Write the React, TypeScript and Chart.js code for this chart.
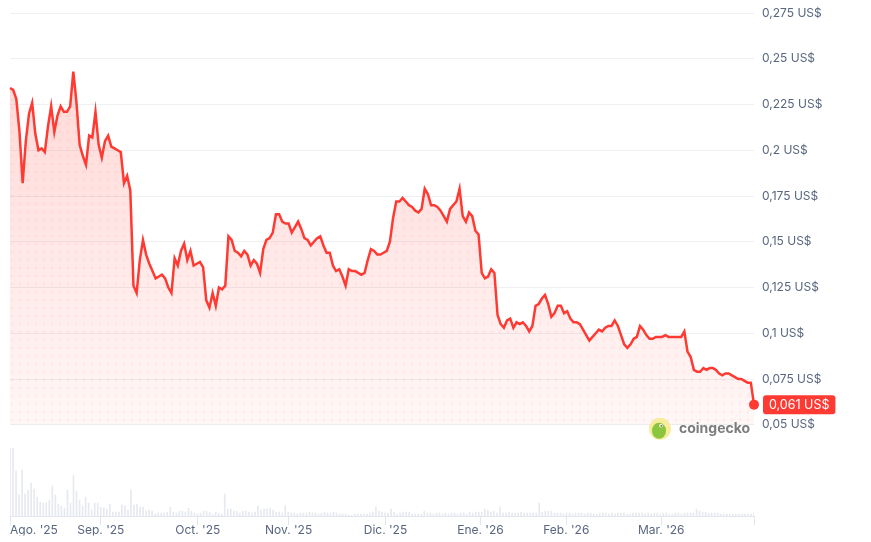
import React, { useEffect, useRef } from "react";
import { Chart, registerables } from "chart.js";

Chart.register(...registerables);

// ---- Data ----
const prices: number[] = [
  0.234, 0.233, 0.228, 0.21, 0.182, 0.205, 0.22, 0.226, 0.209, 0.2,
  0.201, 0.199, 0.213, 0.224, 0.21, 0.219, 0.224, 0.221, 0.221, 0.224,
  0.243, 0.226, 0.203, 0.197, 0.192, 0.208, 0.207, 0.221, 0.203, 0.196,
  0.205, 0.208, 0.202, 0.201, 0.2, 0.199, 0.182, 0.186, 0.178, 0.126,
  0.122, 0.14, 0.151, 0.143, 0.138, 0.134, 0.13, 0.131, 0.132, 0.13,
  0.125, 0.122, 0.141, 0.137, 0.145, 0.149, 0.14, 0.145, 0.137, 0.138,
  0.139, 0.136, 0.118, 0.114, 0.122, 0.115, 0.125, 0.124, 0.126, 0.153,
  0.151, 0.145, 0.144, 0.142, 0.145, 0.143, 0.137, 0.14, 0.138, 0.133,
  0.146, 0.151, 0.152, 0.155, 0.165, 0.165, 0.161, 0.16, 0.16, 0.155,
  0.158, 0.161, 0.157, 0.152, 0.151, 0.148, 0.15, 0.152, 0.153, 0.148,
  0.144, 0.144, 0.137, 0.134, 0.135, 0.131, 0.126, 0.135, 0.134, 0.134,
  0.133, 0.132, 0.133, 0.14, 0.146, 0.145, 0.143, 0.143, 0.144, 0.145,
  0.15, 0.163, 0.172, 0.172, 0.174, 0.172, 0.17, 0.169, 0.167, 0.166,
  0.168, 0.179, 0.176, 0.17, 0.17, 0.169, 0.167, 0.164, 0.161, 0.168,
  0.17, 0.172, 0.179, 0.164, 0.161, 0.166, 0.164, 0.156, 0.154, 0.133,
  0.13, 0.131, 0.135, 0.133, 0.11, 0.105, 0.103, 0.107, 0.108, 0.103,
  0.106, 0.105, 0.106, 0.104, 0.101, 0.104, 0.115, 0.116, 0.119, 0.121,
  0.116, 0.109, 0.111, 0.115, 0.115, 0.111, 0.112, 0.108, 0.106, 0.106,
  0.105, 0.102, 0.099, 0.096, 0.098, 0.1, 0.102, 0.101, 0.103, 0.104,
  0.104, 0.107, 0.104, 0.099, 0.094, 0.092, 0.094, 0.097, 0.098, 0.104,
  0.102, 0.099, 0.097, 0.097, 0.098, 0.098, 0.098, 0.099, 0.098, 0.098,
  0.098, 0.098, 0.098, 0.101, 0.09, 0.087, 0.08, 0.079, 0.079, 0.081,
  0.08, 0.081, 0.081, 0.08, 0.078, 0.077, 0.078, 0.078, 0.077, 0.076,
  0.075, 0.075, 0.074, 0.073, 0.073, 0.061,
];

// relative trading volume (arbitrary units), sampled evenly over the same period
const volumes: number[] = [
  68, 68, 45, 21, 46, 22, 26, 33, 27, 19, 14, 13, 13, 16, 30, 21, 12, 10, 8, 26,
  13, 41, 25, 16, 10, 19, 13, 6, 13, 13, 9, 8, 7, 12, 4, 4, 4, 11, 10, 6,
  26, 11, 12, 9, 9, 5, 6, 5, 2, 3, 3, 3, 4, 9, 4, 3, 5, 5, 4, 8,
  5, 3, 2, 3, 5, 5, 4, 2, 4, 3, 2, 22, 7, 7, 5, 5, 3, 5, 5, 4, 3,
  4, 10, 6, 7, 7, 8, 6, 4, 4, 3, 10, 4, 3, 3, 2, 3, 3, 3, 4, 3,
  3, 2, 3, 4, 3, 3, 4, 3, 2, 2, 2, 1, 1, 2, 2, 2, 2, 2, 3, 4,
  9, 5, 4, 3, 3, 7, 4, 2, 3, 4, 4, 4, 2, 2, 2, 2, 5, 3, 3, 2, 3, 3, 2,
  3, 2, 3, 3, 2, 3, 3, 2, 4, 3, 4, 4, 4, 7, 6, 4, 5, 3, 9, 3, 3,
  4, 3, 3, 3, 4, 3, 3, 3, 3, 3, 13, 4, 5, 5, 5, 3,
  3, 3, 2, 3, 3, 2, 3, 3, 3, 2, 3, 3, 2, 2, 3, 3, 3, 2, 3, 2,
  3, 3, 3, 2, 2, 3, 3, 3, 3, 2, 3, 2, 3, 3, 2, 3, 3, 2, 2, 3, 3, 2, 3, 3, 3,
  3, 7, 5, 4,
  4, 3, 3, 3, 3, 2, 2, 2, 2, 2, 2, 2, 2, 2, 2, 2, 3,
];

const monthTickPositions: number[] = [0, 28.7, 59.3, 88.0, 118.6, 148.6, 175.7, 205.7, 235];
const monthTickLabels: string[] = [
  "Ago. '25", "Sep. '25", "Oct. '25", "Nov. '25", "Dic. '25", "Ene. '26", "Feb. '26", "Mar. '26", "",
];

const priceTickValues: number[] = [0.05, 0.075, 0.1, 0.125, 0.15, 0.175, 0.2, 0.225, 0.25, 0.275];
const priceTickLabels: string[] = [
  "0,05 US$", "0,075 US$", "0,1 US$", "0,125 US$", "0,15 US$",
  "0,175 US$", "0,2 US$", "0,225 US$", "0,25 US$", "0,275 US$",
];
const lastPriceLabel = "0,061 US$";
const brandText = "coingecko";

const RED = "#ff3a33";
const LABEL = "#58667e";
const FONT = "Inter, 'Noto Sans', sans-serif";

export default function App() {
  const ref = useRef<HTMLCanvasElement | null>(null);

  useEffect(() => {
    if (!ref.current) return;

    const pc = document.createElement("canvas");
    pc.width = 8;
    pc.height = 8;
    const pctx = pc.getContext("2d")!;
    pctx.fillStyle = "rgba(255,70,70,0.07)";
    pctx.beginPath();
    pctx.arc(4, 4, 1.4, 0, Math.PI * 2);
    pctx.fill();
    const dotPattern = pctx.createPattern(pc, "repeat");

    const gradientFill = (ctx: any) => {
      const chart = ctx.chart;
      const { chartArea, scales } = chart;
      if (!chartArea) return "rgba(255,59,48,0.1)";
      const y0 = scales.y.getPixelForValue(0.25);
      const y1 = scales.y.getPixelForValue(0.05);
      const g = chart.ctx.createLinearGradient(0, y0, 0, y1);
      g.addColorStop(0, "rgba(255,59,48,0.20)");
      g.addColorStop(1, "rgba(255,59,48,0.04)");
      return g;
    };

    const overlay = {
      id: "overlay",
      afterDatasetsDraw(chart: any) {
        const { ctx, chartArea, scales } = chart;
        const last = prices[prices.length - 1];
        const y = scales.y.getPixelForValue(last);
        ctx.save();
        // price badge
        ctx.font = `12.5px ${FONT}`;
        const tw = ctx.measureText(lastPriceLabel).width;
        const bx = chartArea.right + 9;
        const bw = tw + 12;
        const bh = 19;
        ctx.fillStyle = RED;
        ctx.beginPath();
        (ctx as any).roundRect(bx, y - bh / 2, bw, bh, 3);
        ctx.fill();
        ctx.fillStyle = "#ffffff";
        ctx.textBaseline = "middle";
        ctx.textAlign = "left";
        ctx.fillText(lastPriceLabel, bx + 6, y + 0.5);

        // brand mark
        const ly = scales.y.getPixelForValue(0.05) + 4;
        const lx = chartArea.right - 94;
        ctx.fillStyle = "#f7ec9c";
        ctx.beginPath();
        ctx.arc(lx, ly, 11, 0, Math.PI * 2);
        ctx.fill();
        ctx.fillStyle = "#8cc63f";
        ctx.beginPath();
        ctx.ellipse(lx - 1, ly + 2, 7, 8, 0, 0, Math.PI * 2);
        ctx.fill();
        ctx.fillStyle = "#ffffff";
        ctx.beginPath();
        ctx.arc(lx + 1, ly - 3, 1.8, 0, Math.PI * 2);
        ctx.fill();
        ctx.fillStyle = "#5a5a5a";
        ctx.beginPath();
        ctx.arc(lx + 1.3, ly - 3, 0.9, 0, Math.PI * 2);
        ctx.fill();
        ctx.fillStyle = "#7d7d7d";
        ctx.font = `bold 14px ${FONT}`;
        ctx.textAlign = "left";
        ctx.fillText(brandText, lx + 19, ly);
        ctx.restore();
      },
    };

    const lineData = prices.map((p, i) => ({ x: i, y: p }));
    // volume samples spread evenly across the same day range
    const volData = volumes.map((v, j) => ({
      x: (j * (prices.length - 1)) / (volumes.length - 1),
      y: v,
    }));

    const chart = new Chart(ref.current, {
      type: "line",
      data: {
        datasets: [
          {
            type: "line",
            data: lineData,
            borderColor: RED,
            borderWidth: 2.5,
            backgroundColor: gradientFill as any,
            fill: { value: 0.05 } as any,
            tension: 0,
            pointRadius: (c: any) => (c.dataIndex === prices.length - 1 ? 5 : 0),
            pointBackgroundColor: RED,
            pointBorderWidth: 0,
            clip: false as any,
            order: 1,
            yAxisID: "y",
          },
          {
            type: "line",
            data: lineData,
            borderWidth: 0,
            borderColor: "rgba(0,0,0,0)",
            backgroundColor: dotPattern as any,
            fill: { value: 0.05 } as any,
            pointRadius: 0,
            order: 2,
            yAxisID: "y",
          },
          {
            type: "bar",
            data: volData as any,
            backgroundColor: "#e6e9ef",
            barThickness: 1,
            order: 3,
            yAxisID: "yv",
          } as any,
        ],
      },
      options: {
        responsive: false,
        animation: false,
        devicePixelRatio: 1,
        layout: { padding: { left: 10, top: 6, right: 0, bottom: 6.5 } },
        plugins: { legend: { display: false }, tooltip: { enabled: false } },
        scales: {
          x: {
            type: "linear",
            min: 0,
            max: 235,
            offset: false,
            afterBuildTicks: (s: any) => {
              s.ticks = monthTickPositions.map((v) => ({ value: v }));
            },
            ticks: {
              autoSkip: false,
              maxRotation: 0,
              align: "inner",
              padding: -2,
              color: LABEL,
              font: { family: FONT, size: 12 },
              callback: (_v: any, i: number) => monthTickLabels[i],
            },
            grid: {
              offset: false,
              drawOnChartArea: false,
              drawTicks: true,
              tickLength: 9,
              color: "#e3e6ec",
            },
            border: { display: true, color: "#e3e6ec" },
          },
          y: {
            position: "right",
            min: 0.0001,
            max: 0.27883,
            afterBuildTicks: (s: any) => {
              s.ticks = priceTickValues.map((v) => ({ value: v }));
            },
            afterFit: (s: any) => {
              s.width = 117;
              s.paddingTop = 0;
              s.paddingBottom = 0;
            },
            ticks: {
              padding: 8,
              color: LABEL,
              font: { family: FONT, size: 12 },
              callback: (_v: any, i: number) => priceTickLabels[i],
            },
            grid: { color: "#eef0f3", drawTicks: false },
            border: { display: false },
          },
          yv: {
            display: false,
            min: 0,
            max: 510,
          },
        },
      },
      plugins: [overlay],
    });

    return () => chart.destroy();
  }, []);

  return (
    <div style={{ position: "absolute", left: 0, top: 0, width: 871, height: 542, background: "#fff" }}>
      <canvas ref={ref} width={871} height={542} style={{ width: 871, height: 542 }} />
    </div>
  );
}
